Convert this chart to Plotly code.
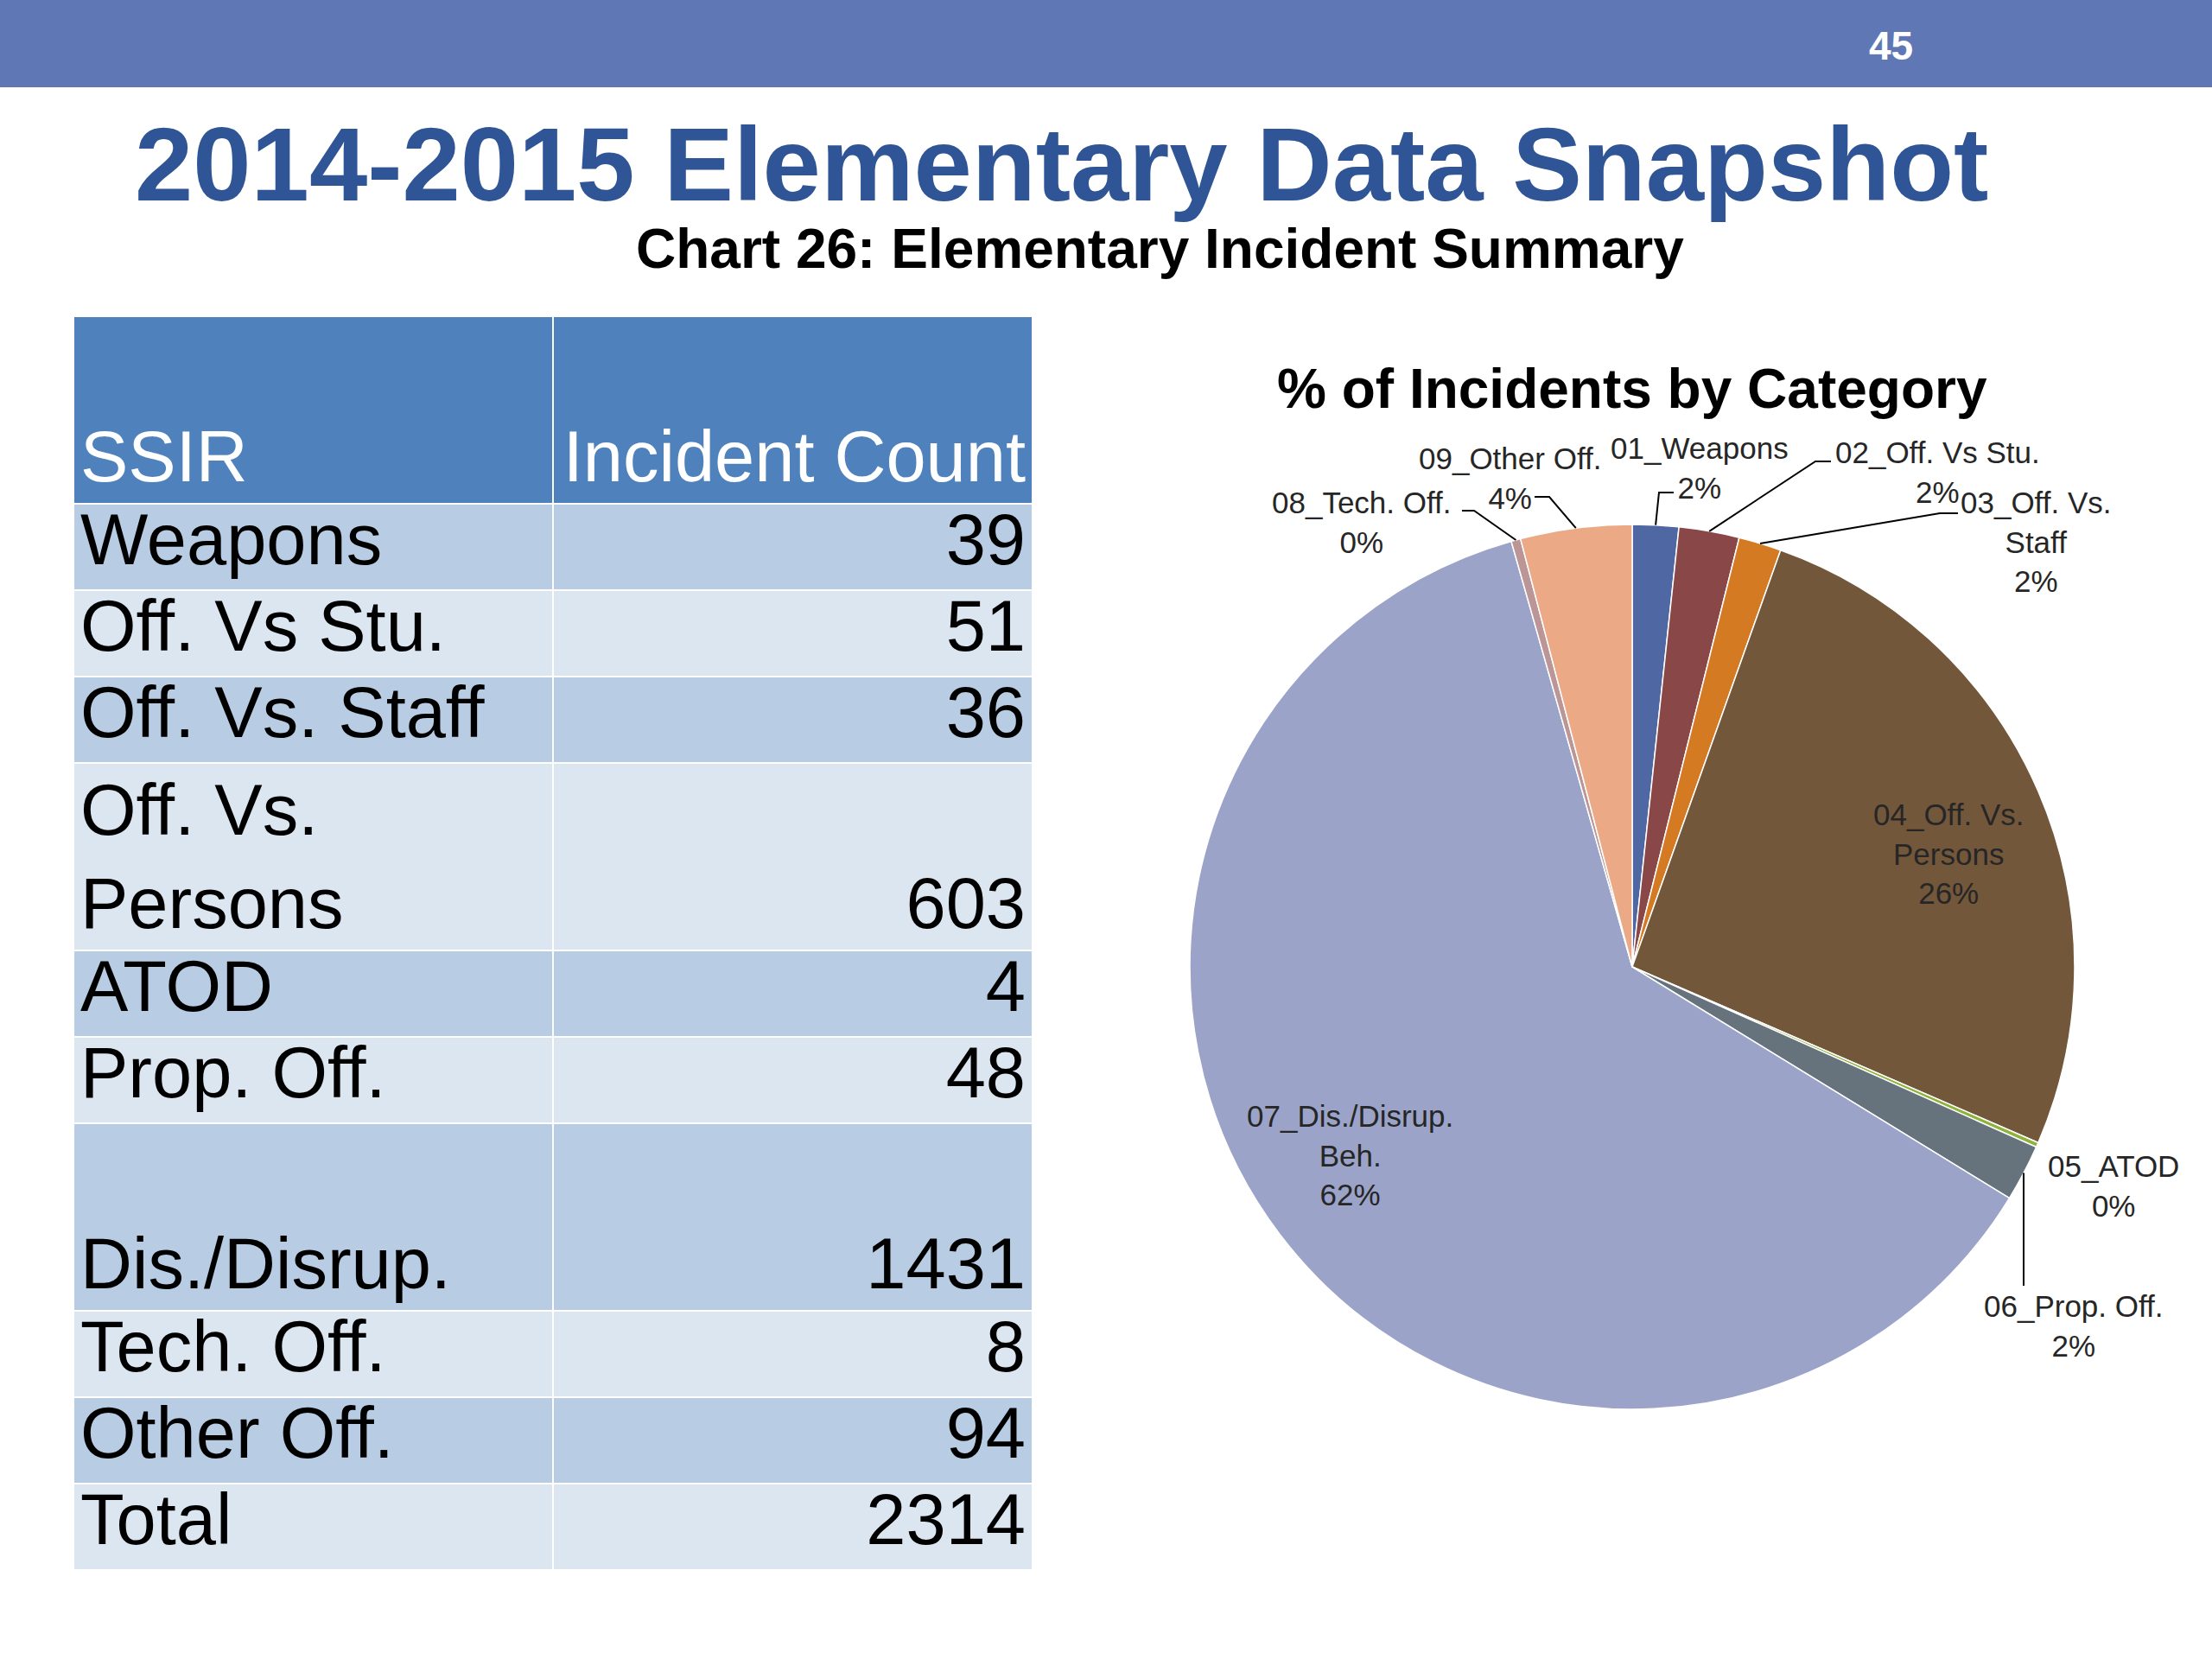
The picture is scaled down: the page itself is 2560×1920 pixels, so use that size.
import math
import plotly.graph_objects as go

W, H = 2560, 1920
FONT = "Liberation Sans, Arial, Helvetica, sans-serif"

# ---------------- data ----------------
table_labels = ["Weapons", "Off. Vs Stu.", "Off. Vs. Staff", "Off. Vs. Persons", "ATOD",
                "Prop. Off.", "Dis./Disrup.", "Tech. Off.", "Other Off."]
incident_counts = [39, 51, 36, 603, 4, 48, 1431, 8, 94]
header_labels = ["SSIR", "Incident Count"]
total_label = "Total"

pie_labels = ["01_Weapons", "02_Off. Vs Stu.", "03_Off. Vs. Staff", "04_Off. Vs. Persons",
              "05_ATOD", "06_Prop. Off.", "07_Dis./Disrup. Beh.", "08_Tech. Off.",
              "09_Other Off."]
pie_colors = ["#4F67A2", "#8A4747", "#D47A22", "#73573B", "#8DB33A",
              "#66727C", "#9BA4C8", "#BC9696", "#EBAA85"]

page_number = "45"
main_title = "2014-2015 Elementary Data Snapshot"
sub_title = "Chart 26: Elementary Incident Summary"
pie_title = "% of Incidents by Category"

# ---------------- derived ----------------
total = sum(incident_counts)
pct = [f"{round(100 * v / total)}%" for v in incident_counts]

BLANK = "\u00a0"
table_wrap = {"Off. Vs. Persons": "Off. Vs.<br>Persons",
              "Dis./Disrup.": BLANK + "<br>Dis./Disrup."}
col1 = [table_wrap.get(l, l) for l in table_labels] + [total_label]
col2 = [(BLANK + "<br>" if l in table_wrap else "") + str(v)
        for l, v in zip(table_labels, incident_counts)] + [str(total)]
row_fill = ["#B8CCE4" if i % 2 == 0 else "#DCE6F1" for i in range(len(col1))]

pie_wrap = {"03_Off. Vs. Staff": "03_Off. Vs.<br>Staff",
            "04_Off. Vs. Persons": "04_Off. Vs.<br>Persons",
            "07_Dis./Disrup. Beh.": "07_Dis./Disrup.<br>Beh."}

# ---------------- layout geometry (pixels) ----------------
CX, CY, R = 1889, 1119, 512
label_pos = [(1967, 541), (2242, 546), (2356, 627), (2255, 988), (2446, 1372),
             (2400, 1534), (1562, 1337), (1576, 604), (1747, 553)]
# leader elbows (from slice edge outward), None = no leader line
leaders = [[(1920, 570), (1937, 570)],
           [(2101, 534), (2119, 534)],
           [(2245, 594), (2266, 594)],
           None,
           None,
           [(2342, 1488)],
           None,
           [(1706, 591), (1692, 591)],
           [(1793, 575), (1776, 575)]]

fig = go.Figure()

# overlay pixel axes for decorations
fig.add_trace(go.Scatter(x=[], y=[], xaxis="x", yaxis="y", showlegend=False, hoverinfo="skip"))

# table
fig.add_trace(go.Table(
    domain=dict(x=[85 / W, 1195 / W], y=[0, 1 - 366 / H]),
    columnwidth=[1, 1],
    header=dict(
        values=[BLANK + "<br>" + h for h in header_labels],
        fill_color="#4F81BD",
        line=dict(color="white", width=2),
        align=["left", "right"],
        font=dict(family=FONT, size=83, color="white"),
        height=100,
    ),
    cells=dict(
        values=[col1, col2],
        fill_color=[row_fill, row_fill],
        line=dict(color="white", width=2),
        align=["left", "right"],
        font=dict(family=FONT, size=83, color="black"),
        height=100,
    ),
))

# pie
fig.add_trace(go.Pie(
    labels=pie_labels,
    values=incident_counts,
    sort=False,
    direction="clockwise",
    rotation=0,
    marker=dict(colors=pie_colors, line=dict(color="white", width=1.5)),
    textinfo="none",
    hoverinfo="label+percent",
    showlegend=False,
    domain=dict(x=[(CX - R) / W, (CX + R) / W], y=[1 - (CY + R) / H, 1 - (CY - R) / H]),
))

shapes = [dict(type="rect", xref="x", yref="y", x0=0, x1=W, y0=0, y1=101,
               fillcolor="#6077B5", line=dict(width=0), layer="below")]

# leader lines from slice mid-angle on the rim
cum = 0
for i, v in enumerate(incident_counts):
    mid = (cum + v / 2) / total * 2 * math.pi
    cum += v
    if leaders[i] is None:
        continue
    tip = (CX + R * math.sin(mid), CY - R * math.cos(mid))
    pts = [tip] + leaders[i]
    path = "M " + " L ".join(f"{x:.1f},{y:.1f}" for x, y in pts)
    shapes.append(dict(type="path", xref="x", yref="y", path=path,
                       line=dict(color="black", width=2), layer="above"))

annotations = [
    dict(x=2188, y=53, text=f"<b>{page_number}</b>", font=dict(family=FONT, size=46, color="white")),
    dict(x=1228, y=190, text=f"<b>{main_title}</b>", font=dict(family=FONT, size=121, color="#2F5597")),
    dict(x=1342, y=288, text=f"<b>{sub_title}</b>", font=dict(family=FONT, size=64, color="black")),
    dict(x=1889, y=450, text=f"<b>{pie_title}</b>", font=dict(family=FONT, size=64, color="black")),
]
for lab, p, (x, y) in zip(pie_labels, pct, label_pos):
    annotations.append(dict(x=x, y=y, text=pie_wrap.get(lab, lab) + "<br>" + p,
                            font=dict(family=FONT, size=35, color="#262626")))
for a in annotations:
    a.update(xref="x", yref="y", showarrow=False, xanchor="center", yanchor="middle")

fig.update_layout(
    width=W, height=H,
    margin=dict(l=0, r=0, t=0, b=0),
    paper_bgcolor="white", plot_bgcolor="rgba(0,0,0,0)",
    xaxis=dict(range=[0, W], visible=False, domain=[0, 1], fixedrange=True),
    yaxis=dict(range=[H, 0], visible=False, domain=[0, 1], fixedrange=True),
    shapes=shapes,
    annotations=annotations,
    font=dict(family=FONT),
)

fig.write_html("out.html", config={"displayModeBar": False},
               post_script="document.body.style.margin='0px';")
